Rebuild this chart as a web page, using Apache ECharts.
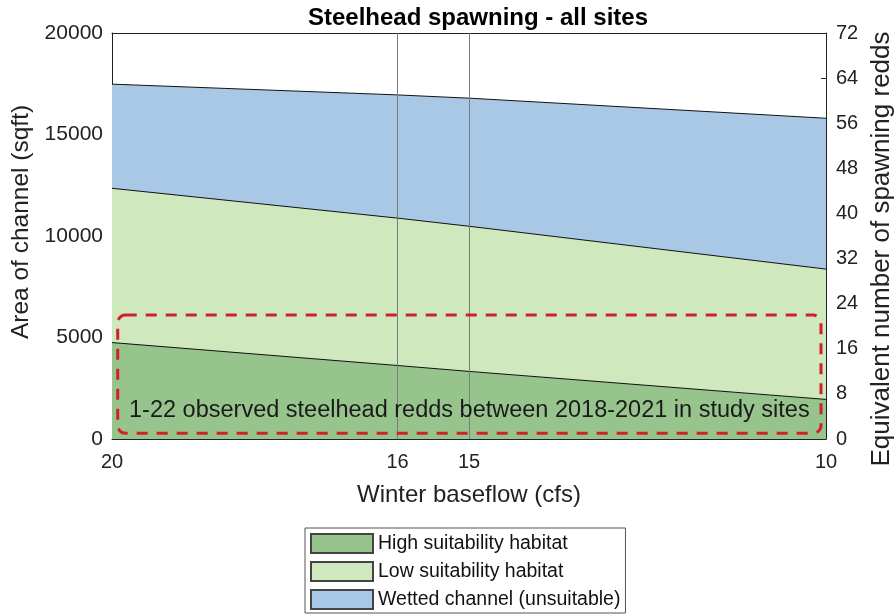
<!DOCTYPE html>
<html>
<head>
<meta charset="utf-8">
<script src="https://cdn.jsdelivr.net/npm/echarts@6/dist/echarts.min.js"></script>
<style>html,body{margin:0;padding:0;background:#fff}#c{width:896px;height:615px}</style>
</head>
<body>
<div id="c"></div>
<script>
// Data
const flows = [20, 16, 15, 10];                 // Winter baseflow (cfs)
const highSuit = [4750, 3620, 3330, 1950];      // High suitability habitat (sqft, top edge)
const lowSuit = [12350, 10880, 10480, 8370];    // Low suitability habitat (sqft, top edge)
const wetted = [17480, 16950, 16790, 15800];    // Wetted channel (sqft, top edge)
const xTicks = [20, 16, 15, 10];
const markedFlows = [16, 15];
const reddsBox = [[19.92, 22, 10.07, 1]];       // observed redds range (x1, redds top, x2, redds bottom)
const boxText = '1-22 observed steelhead redds between 2018-2021 in study sites';

const FONT = '"Liberation Sans", Arial, Helvetica, sans-serif';
const chart = echarts.init(document.getElementById('c'), null, {renderer: 'canvas'});

const pairs = arr => flows.map((f, i) => [f, arr[i]]);

const areaSeries = (name, arr, color, z) => ({
  name, type: 'line', data: pairs(arr), xAxisIndex: 0, yAxisIndex: 0,
  symbol: 'none', z,
  lineStyle: {color: '#111', width: 1},
  areaStyle: {color, opacity: 1, origin: 'start'},
  itemStyle: {color, borderColor: '#444', borderWidth: 1},
  emphasis: {disabled: true}
});

const option = {
  animation: false,
  textStyle: {fontFamily: FONT},
  title: {
    text: 'Steelhead spawning - all sites',
    left: 473, top: 1, textAlign: 'center',
    textStyle: {fontFamily: FONT, fontWeight: 'bold', fontSize: 24, color: '#000'}
  },
  legend: {
    data: ['High suitability habitat', 'Low suitability habitat', 'Wetted channel (unsuitable)'],
    orient: 'vertical', left: 305, top: 528,
    icon: 'rect', itemWidth: 62, itemHeight: 19, itemGap: 7,
    padding: [5, 5, 3, 5],
    borderColor: '#555', borderWidth: 1, backgroundColor: '#fff',
    textStyle: {fontFamily: FONT, fontSize: 19.5, color: '#111', padding: [0, 0, 0, 0]}
  },
  grid: {left: 112, right: 70, top: 33, bottom: 176, containLabel: false, outerBoundsMode: 'none'},
  xAxis: [{
    type: 'value', inverse: true, min: 10, max: 20,
    name: 'Winter baseflow (cfs)', nameLocation: 'middle', nameGap: 44,
    nameTextStyle: {fontFamily: FONT, fontSize: 24, color: '#222'},
    axisLine: {show: true, lineStyle: {color: '#222', width: 1}},
    axisTick: {show: true, inside: true, length: 5, customValues: xTicks, lineStyle: {color: '#222'}},
    axisLabel: {customValues: xTicks, fontFamily: FONT, fontSize: 20, color: '#222', margin: 13},
    splitLine: {show: false}
  }, {
    type: 'value', inverse: true, min: 10, max: 20, position: 'top',
    axisLine: {show: true, onZero: false, lineStyle: {color: '#222', width: 1}},
    axisTick: {show: false}, axisLabel: {show: false}, splitLine: {show: false}
  }],
  yAxis: [{
    type: 'value', min: 0, max: 20000, interval: 5000, position: 'left',
    name: 'Area of channel (sqft)', nameLocation: 'middle', nameGap: 78,
    nameTextStyle: {fontFamily: FONT, fontSize: 24.5, color: '#222', padding: [0, 0, 0, 28]},
    axisLine: {show: true, lineStyle: {color: '#222', width: 1}},
    axisTick: {show: true, inside: true, length: 5, lineStyle: {color: '#222'}},
    axisLabel: {fontFamily: FONT, fontSize: 21, color: '#222', margin: 9, formatter: v => String(v)},
    splitLine: {show: false}
  }, {
    type: 'value', min: 0, max: 72, interval: 8, position: 'right',
    name: 'Equivalent number of spawning redds', nameLocation: 'middle', nameGap: 42,
    nameRotate: 90,
    nameTextStyle: {fontFamily: FONT, fontSize: 26, color: '#222', padding: [0, 26, 0, 0]},
    axisLine: {show: true, lineStyle: {color: '#222', width: 1}},
    axisTick: {show: true, inside: true, length: 5, lineStyle: {color: '#222'}},
    axisLabel: {fontFamily: FONT, fontSize: 20, color: '#222', margin: 10},
    splitLine: {show: false}
  }],
  series: [
    areaSeries('Wetted channel (unsuitable)', wetted, '#a9c8e6', 2),
    areaSeries('Low suitability habitat', lowSuit, '#d0e8bd', 3),
    Object.assign(areaSeries('High suitability habitat', highSuit, '#97c48d', 4), {
      markLine: {
        silent: true, symbol: 'none', label: {show: false},
        lineStyle: {color: '#7a7a7a', width: 1, type: 'solid'},
        data: markedFlows.map(v => ({xAxis: v}))
      }
    }),
    {
      type: 'custom', xAxisIndex: 0, yAxisIndex: 1, z: 10, silent: true,
      data: reddsBox,
      renderItem: (params, api) => {
        const p1 = api.coord([api.value(0), api.value(1)]);
        const p2 = api.coord([api.value(2), api.value(3)]);
        const x = Math.min(p1[0], p2[0]), y = Math.min(p1[1], p2[1]);
        const w = Math.abs(p2[0] - p1[0]), h = Math.abs(p2[1] - p1[1]);
        return {
          type: 'group',
          children: [{
            type: 'rect',
            shape: {x, y, width: w, height: h, r: 8},
            style: {fill: null, stroke: '#d0202e', lineWidth: 3, lineDash: [11, 9]}
          }, {
            type: 'text',
            style: {
              text: boxText, x: x + w / 2, y: y + h - 23,
              align: 'center', verticalAlign: 'middle',
              font: '23.5px ' + FONT, fill: '#1a1a1a'
            }
          }]
        };
      }
    }
  ]
};
chart.setOption(option);
</script>
</body>
</html>
